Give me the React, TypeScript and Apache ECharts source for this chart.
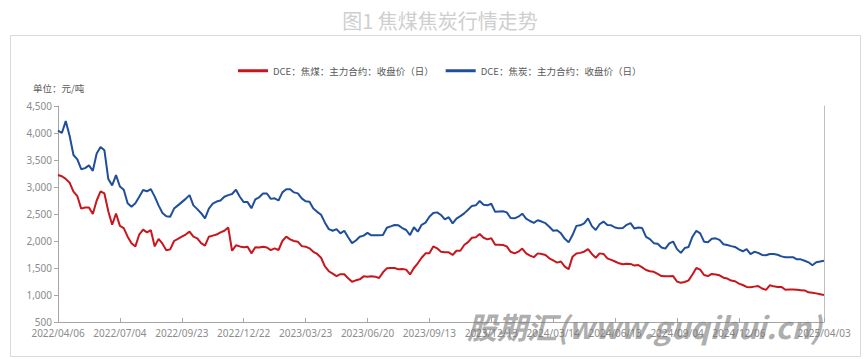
import React, { useEffect, useRef } from "react";
import * as echarts from "echarts";

const titleText = "图1 焦煤焦炭行情走势";
const unitText = "单位：元/吨";
const seriesNames = ["DCE：焦煤：主力合约：收盘价（日）", "DCE：焦炭：主力合约：收盘价（日）"];
const tickLabels = [
  "2022/04/06", "2022/07/04", "2022/09/23", "2022/12/22", "2023/03/23", "2023/06/20",
  "2023/09/13", "2023/12/13", "2024/03/14", "2024/06/13", "2024/09/04", "2024/12/06",
  "2025/04/03",
];
const yTicks = [500, 1000, 1500, 2000, 2500, 3000, 3500, 4000, 4500];

const cokingCoal = [
  3222, 3200, 3150, 3080, 2913, 2830, 2600, 2620, 2620, 2500,
  2750, 2920, 2880, 2550, 2300, 2510, 2280, 2240, 2080, 1960,
  1900, 2120, 2210, 2160, 2200, 1900, 2040, 1950, 1830, 1845,
  2000, 2040, 2080, 2120, 2173, 2080, 2050, 1960, 1915, 2080,
  2100, 2120, 2160, 2190, 2250, 1820, 1920, 1900, 1885, 1895,
  1771, 1883, 1880, 1895, 1880, 1830, 1864, 1833, 2000, 2080,
  2030, 2000, 1988, 1905, 1895, 1864, 1800, 1760, 1690, 1530,
  1440, 1395, 1350, 1385, 1385, 1309, 1245, 1272, 1290, 1345,
  1340, 1345, 1340, 1315, 1420, 1494, 1500, 1500, 1475, 1480,
  1470, 1380, 1500, 1587, 1690, 1771, 1775, 1900, 1864, 1802,
  1790, 1790, 1741, 1820, 1820, 1926, 1980, 2060, 2070, 2130,
  2060, 2030, 2050, 1930, 1930, 1926, 1900, 1800, 1771, 1802,
  1860, 1770, 1730, 1700, 1771, 1760, 1741, 1679, 1640, 1600,
  1620, 1525, 1480, 1710, 1770, 1780, 1802, 1850, 1760, 1690,
  1771, 1760, 1679, 1650, 1620, 1587, 1570, 1580, 1575, 1545,
  1556, 1510, 1463, 1440, 1430, 1390, 1350, 1345, 1345, 1350,
  1250, 1225, 1240, 1270, 1380, 1500, 1470, 1370, 1350, 1390,
  1380, 1365, 1320, 1305, 1268, 1255, 1210, 1185, 1150, 1145,
  1155, 1165, 1120, 1095, 1180, 1160, 1150, 1150, 1098, 1100,
  1100, 1095, 1090, 1085, 1050, 1040, 1030, 1015, 1000,
];

const coke = [
  4043, 4000, 4220, 3950, 3593, 3510, 3330, 3350, 3400, 3300,
  3620, 3740, 3680, 3150, 3030, 3220, 3010, 2950, 2700, 2635,
  2700, 2820, 2944, 2920, 2960, 2821, 2660, 2520, 2460, 2450,
  2600, 2660, 2720, 2780, 2850, 2660, 2590, 2515, 2420, 2600,
  2690, 2730, 2750, 2820, 2850, 2870, 2950, 2820, 2720, 2720,
  2605, 2770, 2810, 2880, 2880, 2780, 2790, 2750, 2900, 2957,
  2960, 2900, 2882, 2790, 2735, 2728, 2600, 2540, 2485, 2340,
  2220, 2190, 2220, 2140, 2190, 2070, 1960, 2010, 2080, 2100,
  2150, 2105, 2105, 2105, 2111, 2245, 2270, 2296, 2290, 2240,
  2204, 2110, 2255, 2173, 2300, 2340, 2450, 2520, 2530, 2481,
  2400, 2440, 2327, 2415, 2460, 2512, 2580, 2650, 2660, 2740,
  2670, 2660, 2690, 2540, 2545, 2550, 2530, 2425, 2420, 2450,
  2505, 2415, 2370, 2335, 2385, 2360, 2330, 2265, 2190, 2200,
  2142, 2040, 1975, 2110, 2280, 2290, 2327, 2420, 2275, 2204,
  2310, 2360, 2296, 2290, 2250, 2234, 2240, 2300, 2330, 2230,
  2250, 2240, 2075, 2035, 1960, 1950, 1880, 1858, 1955, 1990,
  1850, 1780, 1870, 1890, 2080, 2190, 2140, 1988, 1975, 2040,
  2050, 2020, 1940, 1926, 1905, 1890, 1845, 1810, 1850, 1759,
  1800, 1780, 1741, 1735, 1760, 1759, 1745, 1715, 1700, 1700,
  1700, 1660, 1660, 1635, 1605, 1550, 1605, 1620, 1636,
];

const LABEL_STEP = 16;

export default function App() {
  const ref = useRef<HTMLDivElement>(null);

  useEffect(() => {
    if (!ref.current) return;
    const chart = echarts.init(ref.current, undefined, { renderer: "svg" });
    const n = cokingCoal.length;
    const categories = cokingCoal.map((_, i) => String(i));
    const showAt = (idx: number) =>
      (idx % LABEL_STEP === 0 && idx / LABEL_STEP < tickLabels.length - 1) || idx === n - 1;
    const labelFor = (idx: number) =>
      idx === n - 1 ? tickLabels[tickLabels.length - 1] : tickLabels[idx / LABEL_STEP] ?? "";

    const axisGray = "#a6a6a6";
    const labelGray = "#8c8c8c";
    const cjk = "'Noto Sans CJK SC', 'Noto Sans', sans-serif";

    chart.setOption({
      animation: false,
      backgroundColor: "#ffffff",
      textStyle: { fontFamily: cjk },
      title: {
        text: titleText,
        left: 435,
        top: 5,
        textAlign: "center",
        textStyle: { fontSize: 20, fontWeight: "normal", color: "#cfcfcf", fontFamily: cjk },
      },
      graphic: [
        {
          type: "rect",
          shape: { x: 10.5, y: 35.5, width: 850, height: 321 },
          style: { fill: "none", stroke: "#d9d9d9", lineWidth: 1 },
          silent: true,
          z: -1,
        },
        {
          type: "text",
          x: 33,
          y: 88,
          style: {
            text: unitText,
            fontSize: 9.5,
            fill: "#595959",
            fontFamily: cjk,
            textVerticalAlign: "middle",
          },
        },
        {
          type: "text",
          x: 467,
          y: 326,
          z: 100,
          style: {
            text: "股期汇(www.guqihui.cn)",
            fontSize: 30,
            fontWeight: "bold",
            fontStyle: "italic",
            fill: "rgba(120,120,120,0.6)",
            fontFamily: cjk,
            textVerticalAlign: "middle",
          },
        },
      ],
      legend: {
        left: 233,
        top: 61,
        itemWidth: 30,
        itemHeight: 3,
        itemGap: 12,
        icon: "rect",
        textStyle: { fontSize: 9.5, color: "#595959", fontFamily: cjk },
        data: seriesNames,
      },
      grid: { left: 58, right: 43, top: 106, bottom: 37, containLabel: false },
      xAxis: {
        type: "category",
        boundaryGap: false,
        data: categories,
        axisLine: { show: true, lineStyle: { color: axisGray, width: 1 } },
        axisTick: {
          show: true,
          inside: true,
          length: 4,
          interval: (idx: number) => showAt(idx),
          lineStyle: { color: axisGray },
        },
        axisLabel: {
          interval: (idx: number) => showAt(idx),
          formatter: (_v: string, idx: number) => labelFor(idx),
          color: labelGray,
          fontSize: 10,
          margin: 6,
          fontFamily: "'Noto Sans', sans-serif",
        },
        splitLine: { show: false },
      },
      yAxis: [
        {
          type: "value",
          min: yTicks[0],
          max: yTicks[yTicks.length - 1],
          interval: 500,
          axisLine: { show: true, lineStyle: { color: axisGray, width: 1 } },
          axisTick: { show: true, length: 4, lineStyle: { color: axisGray } },
          axisLabel: {
            color: labelGray,
            fontSize: 10,
            margin: 6,
            fontFamily: "'Noto Sans', sans-serif",
            formatter: (v: number) => v.toLocaleString("en-US"),
          },
          splitLine: { show: false },
        },
        {
          type: "value",
          position: "right",
          min: yTicks[0],
          max: yTicks[yTicks.length - 1],
          interval: 500,
          axisLine: { show: true, lineStyle: { color: "#bfbfbf", width: 1 } },
          axisTick: { show: false },
          axisLabel: { show: false },
          splitLine: { show: false },
        },
      ],
      series: [
        {
          name: seriesNames[0],
          type: "line",
          data: cokingCoal,
          showSymbol: false,
          symbol: "none",
          lineStyle: { color: "#C8161D", width: 2 },
          itemStyle: { color: "#C8161D" },
        },
        {
          name: seriesNames[1],
          type: "line",
          data: coke,
          showSymbol: false,
          symbol: "none",
          lineStyle: { color: "#1F4E9A", width: 2 },
          itemStyle: { color: "#1F4E9A" },
        },
      ],
    });

    return () => chart.dispose();
  }, []);

  return (
    <div
      ref={ref}
      style={{ position: "absolute", left: 0, top: 0, width: 867, height: 359 }}
    />
  );
}
